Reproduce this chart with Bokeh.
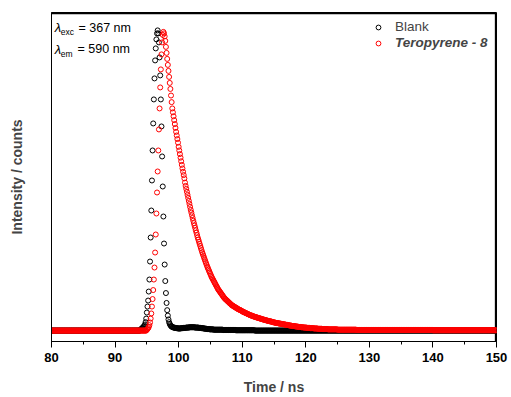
from bokeh.plotting import figure
from bokeh.models import (Range1d, SingleIntervalTicker, FixedTicker, Legend,
                          LegendItem, Label, ColumnDataSource)
from bokeh.embed import file_html
from bokeh.resources import INLINE

# ---- data -------------------------------------------------------------
# detector channel grid: 80.0 ... 150.0 ns, 0.1 ns per channel
t_start = 80.0
t_step = 0.1
n_channels = 701
time_ns = [round(t_start + t_step * i, 1) for i in range(n_channels)]

# normalised counts, one row = 1 ns (10 channels)
blank = [
    0, 0, 0, 0, 0, 0, 0, 0, 0, 0,  # 80
    0, 0, 0, 0, 0, 0, 0, 0, 0, 0,  # 81
    0, 0, 0, 0, 0, 0, 0, 0, 0, 0,  # 82
    0, 0, 0, 0, 0, 0, 0, 0, 0, 0,  # 83
    0, 0, 0, 0, 0, 0, 0, 0, 0, 0,  # 84
    0, 0, 0, 0, 0, 0, 0, 0, 0, 0,  # 85
    0, 0, 0, 0, 0, 0, 0, 0, 0, 0,  # 86
    0, 0, 0, 0, 0, 0, 0, 0, 0, 0,  # 87
    0, 0, 0, 0, 0, 0, 0, 0, 0, 0,  # 88
    0, 0, 0, 0, 0, 0, 0, 0, 0, 0,  # 89
    0, 0, 0, 0, 0, 0, 0, 0, 0, 0,  # 90
    0, 0, 0, 0, 0, 0, 0, 0, 0, 0,  # 91
    0, 0, 0, 0, 0, 0, 0, 0, 0, 0,  # 92
    0, 0, 0, 0, 0, 0, 0, 0, 0, 0,  # 93
    0.003, 0.005, 0.007, 0.009, 0.011, 0.013, 0.016, 0.020, 0.028, 0.040,  # 94
    0.060, 0.080, 0.100, 0.130, 0.170, 0.230, 0.310, 0.400, 0.500, 0.600,  # 95
    0.690, 0.770, 0.840, 0.900, 0.940, 0.970, 0.990, 1.000, 0.990, 0.960,  # 96
    0.910, 0.850, 0.770, 0.680, 0.580, 0.480, 0.380, 0.290, 0.220, 0.165,  # 97
    0.125, 0.092, 0.068, 0.050, 0.037, 0.028, 0.022, 0.018, 0.015, 0.013,  # 98
    0.012, 0.011, 0.010, 0.010, 0.009, 0.009, 0.008, 0.008, 0.008, 0.007,  # 99
    0.007, 0.007, 0.007, 0.007, 0.008, 0.008, 0.008, 0.008, 0.009, 0.009,  # 100
    0.009, 0.009, 0.010, 0.010, 0.010, 0.010, 0.010, 0.011, 0.011, 0.011,  # 101
    0.011, 0.011, 0.011, 0.011, 0.011, 0.011, 0.010, 0.010, 0.010, 0.010,  # 102
    0.010, 0.010, 0.009, 0.009, 0.009, 0.009, 0.008, 0.008, 0.008, 0.007,  # 103
    0.007, 0.007, 0.006, 0.006, 0.006, 0.005, 0.005, 0.005, 0.005, 0.004,  # 104
    0.004, 0.004, 0.004, 0.004, 0.004, 0.003, 0.003, 0.003, 0.003, 0.003,  # 105
    0.003, 0.003, 0.003, 0.003, 0.003, 0.003, 0.003, 0.003, 0.003, 0.003,  # 106
    0.002, 0.002, 0.002, 0.002, 0.002, 0.002, 0.002, 0.002, 0.002, 0.002,  # 107
    0.002, 0.002, 0.002, 0.002, 0.002, 0.002, 0.002, 0.002, 0.002, 0.002,  # 108
    0.001, 0.001, 0.001, 0.001, 0.001, 0.001, 0.001, 0.001, 0.001, 0.001,  # 109
    0.001, 0.001, 0.001, 0.001, 0.001, 0.001, 0.001, 0.001, 0.001, 0.001,  # 110
    0.001, 0.001, 0.001, 0.001, 0.001, 0.001, 0.001, 0.001, 0.001, 0.001,  # 111
    0, 0, 0, 0, 0, 0, 0, 0, 0, 0,  # 112
    0, 0, 0, 0, 0, 0, 0, 0, 0, 0,  # 113
    0, 0, 0, 0, 0, 0, 0, 0, 0, 0,  # 114
    0, 0, 0, 0, 0, 0, 0, 0, 0, 0,  # 115
    0, 0, 0, 0, 0, 0, 0, 0, 0, 0,  # 116
    0, 0, 0, 0, 0, 0, 0, 0, 0, 0,  # 117
    0, 0, 0, 0, 0, 0, 0, 0, 0, 0,  # 118
    0, 0, 0, 0, 0, 0, 0, 0, 0, 0,  # 119
    0, 0, 0, 0, 0, 0, 0, 0, 0, 0,  # 120
    0, 0, 0, 0, 0, 0, 0, 0, 0, 0,  # 121
    0, 0, 0, 0, 0, 0, 0, 0, 0, 0,  # 122
    0, 0, 0, 0, 0, 0, 0, 0, 0, 0,  # 123
    0, 0, 0, 0, 0, 0, 0, 0, 0, 0,  # 124
    0, 0, 0, 0, 0, 0, 0, 0, 0, 0,  # 125
    0, 0, 0, 0, 0, 0, 0, 0, 0, 0,  # 126
    0, 0, 0, 0, 0, 0, 0, 0, 0, 0,  # 127
    0, 0, 0, 0, 0, 0, 0, 0, 0, 0,  # 128
    0, 0, 0, 0, 0, 0, 0, 0, 0, 0,  # 129
    0, 0, 0, 0, 0, 0, 0, 0, 0, 0,  # 130
    0, 0, 0, 0, 0, 0, 0, 0, 0, 0,  # 131
    0, 0, 0, 0, 0, 0, 0, 0, 0, 0,  # 132
    0, 0, 0, 0, 0, 0, 0, 0, 0, 0,  # 133
    0, 0, 0, 0, 0, 0, 0, 0, 0, 0,  # 134
    0, 0, 0, 0, 0, 0, 0, 0, 0, 0,  # 135
    0, 0, 0, 0, 0, 0, 0, 0, 0, 0,  # 136
    0, 0, 0, 0, 0, 0, 0, 0, 0, 0,  # 137
    0, 0, 0, 0, 0, 0, 0, 0, 0, 0,  # 138
    0, 0, 0, 0, 0, 0, 0, 0, 0, 0,  # 139
    0, 0, 0, 0, 0, 0, 0, 0, 0, 0,  # 140
    0, 0, 0, 0, 0, 0, 0, 0, 0, 0,  # 141
    0, 0, 0, 0, 0, 0, 0, 0, 0, 0,  # 142
    0, 0, 0, 0, 0, 0, 0, 0, 0, 0,  # 143
    0, 0, 0, 0, 0, 0, 0, 0, 0, 0,  # 144
    0, 0, 0, 0, 0, 0, 0, 0, 0, 0,  # 145
    0, 0, 0, 0, 0, 0, 0, 0, 0, 0,  # 146
    0, 0, 0, 0, 0, 0, 0, 0, 0, 0,  # 147
    0, 0, 0, 0, 0, 0, 0, 0, 0, 0,  # 148
    0, 0, 0, 0, 0, 0, 0, 0, 0, 0,  # 149
    0,                             # 150
]

teropyrene = [
    0, 0, 0, 0, 0, 0, 0, 0, 0, 0,  # 80
    0, 0, 0, 0, 0, 0, 0, 0, 0, 0,  # 81
    0, 0, 0, 0, 0, 0, 0, 0, 0, 0,  # 82
    0, 0, 0, 0, 0, 0, 0, 0, 0, 0,  # 83
    0, 0, 0, 0, 0, 0, 0, 0, 0, 0,  # 84
    0, 0, 0, 0, 0, 0, 0, 0, 0, 0,  # 85
    0, 0, 0, 0, 0, 0, 0, 0, 0, 0,  # 86
    0, 0, 0, 0, 0, 0, 0, 0, 0, 0,  # 87
    0, 0, 0, 0, 0, 0, 0, 0, 0, 0,  # 88
    0, 0, 0, 0, 0, 0, 0, 0, 0, 0,  # 89
    0, 0, 0, 0, 0, 0, 0, 0, 0, 0,  # 90
    0, 0, 0, 0, 0, 0, 0, 0, 0, 0,  # 91
    0, 0, 0, 0, 0, 0, 0, 0, 0, 0,  # 92
    0, 0, 0, 0, 0, 0, 0, 0, 0, 0,  # 93
    0, 0, 0, 0, 0, 0, 0, 0, 0, 0,  # 94
    0.003, 0.005, 0.008, 0.012, 0.018, 0.027, 0.040, 0.057, 0.080, 0.105,  # 95
    0.135, 0.170, 0.210, 0.260, 0.320, 0.390, 0.460, 0.530, 0.600, 0.670,  # 96
    0.740, 0.810, 0.870, 0.920, 0.960, 0.985, 0.995, 0.990, 0.980, 0.965,  # 97
    0.945, 0.925, 0.905, 0.885, 0.865, 0.845, 0.825, 0.805, 0.783, 0.761,  # 98
    0.740, 0.727, 0.714, 0.701, 0.688, 0.675, 0.662, 0.650, 0.638, 0.626,  # 99
    0.612, 0.600, 0.588, 0.576, 0.564, 0.552, 0.540, 0.529, 0.518, 0.507,  # 100
    0.493, 0.482, 0.472, 0.462, 0.452, 0.442, 0.432, 0.422, 0.412, 0.402,  # 101
    0.393, 0.384, 0.375, 0.366, 0.358, 0.350, 0.342, 0.334, 0.326, 0.318,  # 102
    0.310, 0.303, 0.296, 0.289, 0.282, 0.275, 0.268, 0.261, 0.255, 0.249,  # 103
    0.243, 0.237, 0.231, 0.225, 0.219, 0.213, 0.208, 0.203, 0.198, 0.193,  # 104
    0.188, 0.183, 0.178, 0.174, 0.170, 0.166, 0.162, 0.158, 0.154, 0.150,  # 105
    0.146, 0.142, 0.138, 0.135, 0.132, 0.129, 0.126, 0.123, 0.120, 0.117,  # 106
    0.114, 0.111, 0.108, 0.106, 0.104, 0.102, 0.100, 0.098, 0.096, 0.094,  # 107
    0.092, 0.090, 0.088, 0.086, 0.084, 0.083, 0.082, 0.080, 0.079, 0.078,  # 108
    0.076, 0.075, 0.074, 0.072, 0.071, 0.070, 0.069, 0.068, 0.067, 0.066,  # 109
    0.064, 0.063, 0.062, 0.061, 0.060, 0.059, 0.058, 0.057, 0.056, 0.055,  # 110
    0.054, 0.053, 0.052, 0.051, 0.050, 0.050, 0.049, 0.048, 0.047, 0.046,  # 111
    0.046, 0.045, 0.044, 0.044, 0.043, 0.042, 0.042, 0.041, 0.040, 0.040,  # 112
    0.039, 0.038, 0.038, 0.037, 0.036, 0.036, 0.035, 0.035, 0.034, 0.033,  # 113
    0.033, 0.032, 0.032, 0.031, 0.031, 0.030, 0.030, 0.029, 0.028, 0.028,  # 114
    0.027, 0.027, 0.026, 0.026, 0.025, 0.025, 0.025, 0.024, 0.024, 0.023,  # 115
    0.023, 0.023, 0.022, 0.022, 0.021, 0.021, 0.021, 0.020, 0.020, 0.019,  # 116
    0.019, 0.019, 0.018, 0.018, 0.017, 0.017, 0.017, 0.016, 0.016, 0.015,  # 117
    0.015, 0.015, 0.015, 0.014, 0.014, 0.014, 0.013, 0.013, 0.013, 0.012,  # 118
    0.012, 0.012, 0.012, 0.011, 0.011, 0.011, 0.011, 0.010, 0.010, 0.010,  # 119
    0.010, 0.010, 0.009, 0.009, 0.009, 0.009, 0.009, 0.008, 0.008, 0.008,  # 120
    0.008, 0.008, 0.008, 0.007, 0.007, 0.007, 0.007, 0.007, 0.007, 0.006,  # 121
    0.006, 0.006, 0.006, 0.006, 0.006, 0.006, 0.005, 0.005, 0.005, 0.005,  # 122
    0.005, 0.005, 0.005, 0.005, 0.005, 0.004, 0.004, 0.004, 0.004, 0.004,  # 123
    0.004, 0.004, 0.004, 0.004, 0.004, 0.004, 0.004, 0.004, 0.004, 0.004,  # 124
    0.003, 0.003, 0.003, 0.003, 0.003, 0.003, 0.003, 0.003, 0.003, 0.003,  # 125
    0.003, 0.003, 0.003, 0.003, 0.003, 0.003, 0.003, 0.003, 0.003, 0.003,  # 126
    0.003, 0.003, 0.003, 0.003, 0.003, 0.003, 0.003, 0.003, 0.003, 0.003,  # 127
    0.002, 0.002, 0.002, 0.002, 0.002, 0.002, 0.002, 0.002, 0.002, 0.002,  # 128
    0.002, 0.002, 0.002, 0.002, 0.002, 0.002, 0.002, 0.002, 0.002, 0.002,  # 129
    0.002, 0.002, 0.002, 0.002, 0.002, 0.002, 0.002, 0.002, 0.002, 0.002,  # 130
    0.002, 0.002, 0.002, 0.002, 0.002, 0.002, 0.002, 0.002, 0.002, 0.002,  # 131
    0.002, 0.002, 0.002, 0.002, 0.002, 0.002, 0.002, 0.002, 0.002, 0.002,  # 132
    0.002, 0.002, 0.002, 0.002, 0.002, 0.002, 0.002, 0.002, 0.002, 0.002,  # 133
    0.002, 0.002, 0.002, 0.002, 0.002, 0.002, 0.002, 0.002, 0.002, 0.002,  # 134
    0.002, 0.002, 0.002, 0.002, 0.002, 0.002, 0.002, 0.002, 0.002, 0.002,  # 135
    0.002, 0.002, 0.002, 0.002, 0.002, 0.002, 0.002, 0.002, 0.002, 0.002,  # 136
    0.002, 0.002, 0.002, 0.002, 0.002, 0.002, 0.002, 0.002, 0.002, 0.002,  # 137
    0.002, 0.002, 0.002, 0.002, 0.002, 0.002, 0.002, 0.002, 0.002, 0.002,  # 138
    0.002, 0.002, 0.002, 0.002, 0.002, 0.002, 0.002, 0.002, 0.002, 0.002,  # 139
    0.001, 0.001, 0.001, 0.001, 0.001, 0.001, 0.001, 0.001, 0.001, 0.001,  # 140
    0.001, 0.001, 0.001, 0.001, 0.001, 0.001, 0.001, 0.001, 0.001, 0.001,  # 141
    0.001, 0.001, 0.001, 0.001, 0.001, 0.001, 0.001, 0.001, 0.001, 0.001,  # 142
    0.001, 0.001, 0.001, 0.001, 0.001, 0.001, 0.001, 0.001, 0.001, 0.001,  # 143
    0.001, 0.001, 0.001, 0.001, 0.001, 0.001, 0.001, 0.001, 0.001, 0.001,  # 144
    0.001, 0.001, 0.001, 0.001, 0.001, 0.001, 0.001, 0.001, 0.001, 0.001,  # 145
    0.001, 0.001, 0.001, 0.001, 0.001, 0.001, 0.001, 0.001, 0.001, 0.001,  # 146
    0.001, 0.001, 0.001, 0.001, 0.001, 0.001, 0.001, 0.001, 0.001, 0.001,  # 147
    0.001, 0.001, 0.001, 0.001, 0.001, 0.001, 0.001, 0.001, 0.001, 0.001,  # 148
    0.001, 0.001, 0.001, 0.001, 0.001, 0.001, 0.001, 0.001, 0.001, 0.001,  # 149
    0.001,                                                                 # 150
]

series_labels = ["Blank", "Teropyrene - 8"]
x_ticks_interval = 10
x_lo, x_hi = 80, 150
y_lo, y_hi = -0.0364, 1.0596

assert len(blank) == n_channels, len(blank)
assert len(teropyrene) == n_channels, len(teropyrene)

# ---- figure -----------------------------------------------------------
FONT = "Liberation Sans"

p = figure(width=511, height=397, output_backend="svg", toolbar_location=None,
           x_range=Range1d(x_lo, x_hi), y_range=Range1d(y_lo, y_hi),
           min_border_left=51, min_border_right=15, min_border_top=12,
           min_border_bottom=54)
p.xgrid.visible = False
p.ygrid.visible = False
p.outline_line_color = "black"
p.outline_line_width = 1
p.outline_line_alpha = 1
p.background_fill_color = "white"
p.border_fill_color = "white"

# frame lines on the top and right edges (from the axis range limits,
# nudged one pixel inside so they are not clipped away)
px_x = (x_hi - x_lo) / 445.0
px_y = (y_hi - y_lo) / 331.0
fx = x_hi - 1.0 * px_x
fy = y_hi - 1.0 * px_y
p.segment(x0=[x_lo, fx], y0=[fy, y_lo], x1=[x_hi, fx], y1=[fy, y_hi],
          line_color="black", line_width=1.3)

src_b = ColumnDataSource(dict(t=time_ns, v=blank))
src_t = ColumnDataSource(dict(t=time_ns, v=teropyrene))

r_b = p.scatter("t", "v", source=src_b, marker="circle", size=5,
                fill_color=None, line_color="black", line_width=1)
r_t = p.scatter("t", "v", source=src_t, marker="circle", size=5,
                fill_color=None, line_color="#ff0000", line_width=1)

# x axis
xa = p.xaxis[0]
xa.ticker = SingleIntervalTicker(interval=x_ticks_interval, num_minor_ticks=2)
xa.axis_line_color = "black"
xa.major_tick_in = 0
xa.major_tick_out = 6
xa.minor_tick_in = 0
xa.minor_tick_out = 3
xa.major_label_standoff = 5
xa.major_label_text_font = FONT
xa.major_label_text_font_style = "bold"
xa.major_label_text_font_size = "13px"
xa.major_label_text_color = "black"
xa.axis_label = "Time / ns"
xa.axis_label_text_font = FONT
xa.axis_label_text_font_style = "bold"
xa.axis_label_text_font_size = "14px"
xa.axis_label_standoff = 14

# y axis (no ticks)
ya = p.yaxis[0]
ya.ticker = FixedTicker(ticks=[])
ya.axis_line_color = "black"
ya.major_tick_line_color = None
ya.minor_tick_line_color = None
ya.axis_label = "Intensity / counts"
ya.axis_label_text_font = FONT
ya.axis_label_text_font_style = "bold"
ya.axis_label_text_font_size = "14px"
ya.axis_label_standoff = 27

# legends (two, so each entry gets its own font style)
common = dict(border_line_color=None, background_fill_alpha=0, padding=0,
              margin=0, spacing=0, glyph_width=20, glyph_height=12,
              label_height=12, label_standoff=7, label_text_font=FONT,
              label_text_font_size="13.5px")
leg1 = Legend(items=[LegendItem(label=series_labels[0], renderers=[r_b])],
              location=(317, 307), **common)
leg2 = Legend(items=[LegendItem(label=series_labels[1], renderers=[r_t])],
              location=(317, 291), label_text_font_style="bold italic", **common)
p.add_layout(leg1)
p.add_layout(leg2)

# excitation / emission annotation
ann = dict(x_units="data", y_units="data", text_font=FONT,
           text_baseline="alphabetic", text_color="black")
p.add_layout(Label(x=80.5, y=1.008, text="λ", text_font_style="italic",
                   text_font_size="13px", **ann))
p.add_layout(Label(x=81.45, y=0.995, text="exc", text_font_size="8.5px", **ann))
p.add_layout(Label(x=84.25, y=1.008, text="= 367 nm", text_font_size="12.5px", **ann))
p.add_layout(Label(x=80.5, y=0.937, text="λ", text_font_style="italic",
                   text_font_size="13px", **ann))
p.add_layout(Label(x=81.45, y=0.923, text="em", text_font_size="8.5px", **ann))
p.add_layout(Label(x=84.1, y=0.937, text="= 590 nm", text_font_size="12.5px", **ann))

open("out.html", "w").write(file_html(p, INLINE))
